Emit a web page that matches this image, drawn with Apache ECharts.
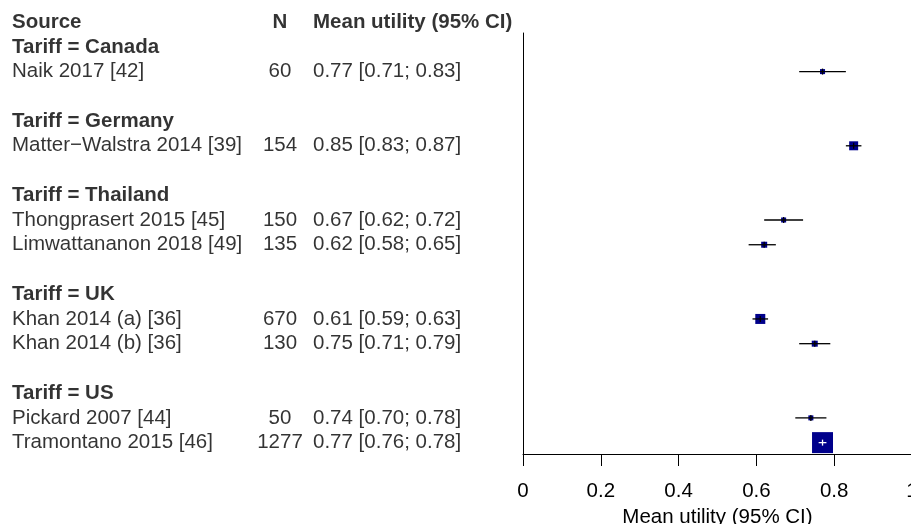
<!DOCTYPE html>
<html>
<head>
<meta charset="utf-8">
<script src="https://cdn.jsdelivr.net/npm/echarts@6/dist/echarts.min.js"></script>
<style>
  html, body { margin: 0; padding: 0; background: #fff; }
  #chart { width: 911px; height: 524px; }
</style>
</head>
<body>
<div id="chart"></div>
<script>
// data
const groups = ['Canada', 'Germany', 'Thailand', 'UK', 'US'];
const studies = [
  'Naik 2017 [42]',
  'Matter\u2212Walstra 2014 [39]',
  'Thongprasert 2015 [45]',
  'Limwattananon 2018 [49]',
  'Khan 2014 (a) [36]',
  'Khan 2014 (b) [36]',
  'Pickard 2007 [44]',
  'Tramontano 2015 [46]'
];
const studyGroup = [0, 1, 2, 2, 3, 3, 4, 4];
const nValues = [60, 154, 150, 135, 670, 130, 50, 1277];
const means = [0.77, 0.85, 0.67, 0.62, 0.61, 0.75, 0.74, 0.77];
const lower = [0.71, 0.83, 0.62, 0.58, 0.59, 0.71, 0.70, 0.76];
const upper = [0.83, 0.87, 0.72, 0.65, 0.63, 0.79, 0.78, 0.78];
const weights = [3.3, 10.5, 3.3, 4.7, 13.0, 4.7, 3.3, 57.3]; // estimated % weights
const xTicks = [0, 0.2, 0.4, 0.6, 0.8, 1];

const FONT = '"Liberation Sans", Arial, Helvetica, sans-serif';
const FS = 20.5;

// build table rows: header, then group title, studies, blank line
let row = 0;
const sourceRows = [{ value: [0, row], text: 'Source', bold: true }];
const nRows = [{ value: [0, row], text: 'N', bold: true }];
const ciRows = [{ value: [0, row], text: 'Mean utility (95% CI)', bold: true }];
const forestData = [];
groups.forEach((g, gi) => {
  row++;
  sourceRows.push({ value: [0, row], text: 'Tariff = ' + g, bold: true });
  studies.forEach((s, i) => {
    if (studyGroup[i] !== gi) return;
    row++;
    sourceRows.push({ value: [0, row], text: s });
    nRows.push({ value: [0, row], text: String(nValues[i]) });
    ciRows.push({ value: [0, row],
      text: means[i].toFixed(2) + ' [' + lower[i].toFixed(2) + '; ' + upper[i].toFixed(2) + ']' });
    forestData.push([row, means[i], lower[i], upper[i], weights[i]]);
  });
  row++;
});
const maxWeight = Math.max(...weights);

const yRange = { min: 0.44, max: 17.46 };

const textSeries = (data, xIndex, align) => ({
  type: 'scatter',
  xAxisIndex: 1,
  yAxisIndex: 1,
  symbolSize: 0,
  clip: false,
  silent: true,
  data: data.map(d => ({
    value: [xIndex, d.value[1]],
    label: {
      show: true,
      position: 'inside',
      formatter: d.text,
      align: align,
      verticalAlign: 'middle',
      color: '#000',
      fontFamily: FONT,
      fontSize: FS,
      fontWeight: d.bold ? 'bold' : 'normal'
    }
  }))
});

const chart = echarts.init(document.getElementById('chart'));
chart.setOption({
  animation: false,
  grid: [
    { left: 523, top: 33, width: 389, height: 421, outerBoundsMode: 'none', containLabel: false },
    { left: 0, top: 33, width: 523, height: 421, outerBoundsMode: 'none', containLabel: false }
  ],
  xAxis: [
    {
      type: 'value', gridIndex: 0, min: xTicks[0], max: xTicks[xTicks.length - 1], interval: 0.2,
      axisLine: { onZero: false, lineStyle: { color: '#000', width: 1 } },
      axisTick: { show: true, length: 12, lineStyle: { color: '#000', width: 1 } },
      axisLabel: { color: '#000', fontFamily: FONT, fontSize: FS, margin: 27 },
      splitLine: { show: false },
      name: 'Mean utility (95% CI)',
      nameLocation: 'middle',
      nameGap: 53,
      nameTextStyle: { color: '#000', fontFamily: FONT, fontSize: FS }
    },
    { type: 'value', gridIndex: 1, min: 0, max: 523, show: false }
  ],
  yAxis: [
    {
      type: 'value', gridIndex: 0, inverse: true, min: yRange.min, max: yRange.max,
      axisLine: { show: true, onZero: false, lineStyle: { color: '#000', width: 1 } },
      axisTick: { show: false }, axisLabel: { show: false }, splitLine: { show: false }
    },
    { type: 'value', gridIndex: 1, inverse: true, min: yRange.min, max: yRange.max, show: false }
  ],
  series: [
    textSeries(sourceRows, 12, 'left'),
    textSeries(nRows, 280, 'center'),
    textSeries(ciRows, 313, 'left'),
    {
      type: 'custom',
      xAxisIndex: 0,
      yAxisIndex: 0,
      clip: false,
      silent: true,
      encode: { x: [1, 2, 3], y: 0 },
      data: forestData,
      renderItem: function (params, api) {
        const y = api.value(0);
        const c = api.coord([api.value(1), y]);
        const pl = api.coord([api.value(2), y]);
        const ph = api.coord([api.value(3), y]);
        const side = 21 * Math.sqrt(api.value(4) / maxWeight);
        const inside = (ph[0] - pl[0]) < side;
        const lineColor = inside ? '#fff' : '#000';
        return {
          type: 'group',
          children: [
            { type: 'rect', shape: { x: c[0] - side / 2, y: c[1] - side / 2, width: side, height: side },
              style: { fill: '#00008B' } },
            { type: 'line', shape: { x1: pl[0], y1: c[1], x2: ph[0], y2: c[1] },
              style: { stroke: lineColor, lineWidth: 1.3 } },
            { type: 'line', shape: { x1: c[0], y1: c[1] - 3, x2: c[0], y2: c[1] + 3 },
              style: { stroke: lineColor, lineWidth: 1.3 } }
          ]
        };
      }
    }
  ]
});
</script>
</body>
</html>
